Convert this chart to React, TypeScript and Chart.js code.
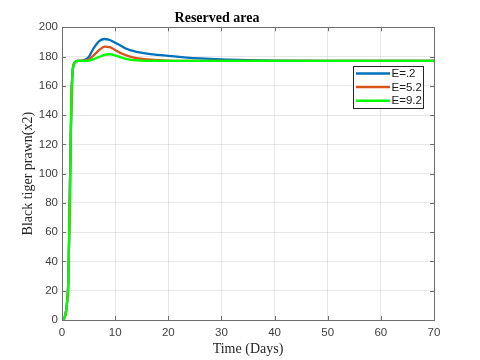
import React, { useEffect, useRef } from "react";
import { Chart, registerables } from "chart.js";

Chart.register(...registerables);

const days = [0, 0.3, 0.6, 0.8, 1.0, 1.2, 1.4, 1.6, 1.8, 2.0, 2.2, 2.4, 2.7, 3, 4, 5, 6, 7, 8, 9, 10, 11, 12, 13, 14, 16, 18, 20, 23, 26, 30, 35, 40, 50, 60, 70];
const prawnE02 = [0, 0.5, 3, 7, 14, 28, 70, 115, 155, 170, 174.5, 176, 176.8, 177, 177.4, 179.5, 186, 190.5, 192, 191.3, 189.5, 187.5, 185.5, 184.2, 183.2, 182, 181.2, 180.5, 179.5, 178.7, 178, 177.5, 177.2, 177, 177, 177];
const prawnE52 = [0, 0.5, 3, 7, 14, 28, 70, 115, 155, 170, 174.5, 176, 176.8, 177, 177.2, 178, 181, 184.5, 186.8, 186.5, 184.5, 182.5, 181, 179.8, 178.9, 178, 177.5, 177.2, 177, 177, 177, 177, 177, 177, 177, 177];
const prawnE92 = [0, 0.5, 3, 7, 14, 28, 70, 115, 155, 170, 174.5, 176, 176.8, 177, 177, 177.3, 178.3, 179.8, 181.2, 181.6, 180.8, 179.6, 178.5, 177.8, 177.4, 177.1, 177, 177, 177, 177, 177, 177, 177, 177, 177, 177];
const seriesLabels = ["E=.2", "E=5.2", "E=9.2"];
const seriesColors = ["#0072BD", "#D95319", "#00FF00"];
const xTickValues = [0, 10, 20, 30, 40, 50, 60, 70];
const yTickValues = [0, 20, 40, 60, 80, 100, 120, 140, 160, 180, 200];

const framePlugin = {
  id: "frameAndLegend",
  afterDatasetsDraw(chart: any) {
    const { ctx, chartArea, scales } = chart;
    const { left, right, top, bottom } = chartArea;
    ctx.save();
    ctx.strokeStyle = "#6e6e6e";
    ctx.lineWidth = 1;
    ctx.strokeRect(Math.round(left) + 0.5, Math.round(top) + 0.5, Math.round(right - left), Math.round(bottom - top));
    ctx.beginPath();
    const tl = 4;
    xTickValues.forEach((v) => {
      const px = Math.round(scales.x.getPixelForValue(v)) + 0.5;
      ctx.moveTo(px, bottom);
      ctx.lineTo(px, bottom - tl);
      ctx.moveTo(px, top);
      ctx.lineTo(px, top + tl);
    });
    yTickValues.forEach((v) => {
      const py = Math.round(scales.y.getPixelForValue(v)) + 0.5;
      ctx.moveTo(left, py);
      ctx.lineTo(left + tl, py);
      ctx.moveTo(right, py);
      ctx.lineTo(right - tl, py);
    });
    ctx.stroke();

    // legend
    const bx = 353, by = 66, bw = 70, bh = 42;
    ctx.fillStyle = "#ffffff";
    ctx.fillRect(bx, by, bw, bh);
    ctx.strokeStyle = "#262626";
    ctx.strokeRect(bx + 0.5, by + 0.5, bw, bh);
    ctx.font = "11.5px 'Liberation Sans', Arial, sans-serif";
    ctx.textBaseline = "middle";
    ctx.textAlign = "left";
    seriesLabels.forEach((label, i) => {
      const yy = by + 7.5 + i * 13.6;
      ctx.strokeStyle = seriesColors[i];
      ctx.lineWidth = 2.5;
      ctx.beginPath();
      ctx.moveTo(bx + 3, yy);
      ctx.lineTo(bx + 37, yy);
      ctx.stroke();
      ctx.fillStyle = "#1a1a1a";
      ctx.fillText(label, bx + 38.5, yy + 0.5);
    });
    ctx.restore();
  },
};

export default function App() {
  const canvasRef = useRef<HTMLCanvasElement | null>(null);

  useEffect(() => {
    document.body.style.margin = "0";
    const canvas = canvasRef.current;
    if (!canvas) return;
    const seriesValues = [prawnE02, prawnE52, prawnE92];
    const chart = new Chart(canvas, {
      type: "line",
      data: {
        datasets: seriesValues.map((vals, i) => ({
          label: seriesLabels[i],
          data: days.map((d, j) => ({ x: d, y: vals[j] })),
          borderColor: seriesColors[i],
          backgroundColor: seriesColors[i],
          borderWidth: 2.3,
          pointRadius: 0,
          cubicInterpolationMode: "monotone" as const,
          fill: false,
          order: 2 - i,
        })),
      },
      options: {
        responsive: false,
        animation: false,
        layout: { padding: { left: 0, right: 46, top: 0, bottom: 0 } },
        plugins: {
          legend: { display: false },
          tooltip: { enabled: false },
          title: {
            display: true,
            text: "Reserved area",
            color: "#000000",
            font: { family: "'Liberation Serif', 'Times New Roman', serif", size: 14, weight: "bold" },
            padding: { top: 10, bottom: 0.5 },
          },
        },
        scales: {
          x: {
            type: "linear",
            min: 0,
            max: 70,
            afterFit: (scale: any) => {
              scale.height = 40;
            },
            afterBuildTicks: (scale: any) => {
              scale.ticks = xTickValues.map((v) => ({ value: v }));
            },
            grid: { color: "rgba(0,0,0,0.09)", drawTicks: false },
            border: { display: false },
            ticks: {
              color: "#404040",
              font: { family: "'Liberation Sans', Arial, sans-serif", size: 11.5 },
              padding: 6,
              maxRotation: 0,
            },
            title: {
              display: true,
              text: "Time (Days)",
              color: "#262626",
              font: { family: "'Liberation Serif', 'Times New Roman', serif", size: 14 },
              padding: { top: 0, bottom: 2 },
            },
          },
          y: {
            type: "linear",
            min: 0,
            max: 200,
            afterFit: (scale: any) => {
              scale.width = 62;
            },
            afterBuildTicks: (scale: any) => {
              scale.ticks = yTickValues.map((v) => ({ value: v }));
            },
            grid: { color: "rgba(0,0,0,0.09)", drawTicks: false },
            border: { display: false },
            ticks: {
              color: "#404040",
              font: { family: "'Liberation Sans', Arial, sans-serif", size: 11.5 },
              padding: 4,
            },
            title: {
              display: true,
              text: "Black tiger prawn(x2)",
              color: "#262626",
              font: { family: "'Liberation Serif', 'Times New Roman', serif", size: 14 },
              padding: { top: 20, bottom: 0 },
            },
          },
        },
      },
      plugins: [framePlugin],
    });
    return () => chart.destroy();
  }, []);

  return (
    <div style={{ width: 480, height: 360 }}>
      <canvas ref={canvasRef} width={480} height={360} style={{ display: "block" }} />
    </div>
  );
}
